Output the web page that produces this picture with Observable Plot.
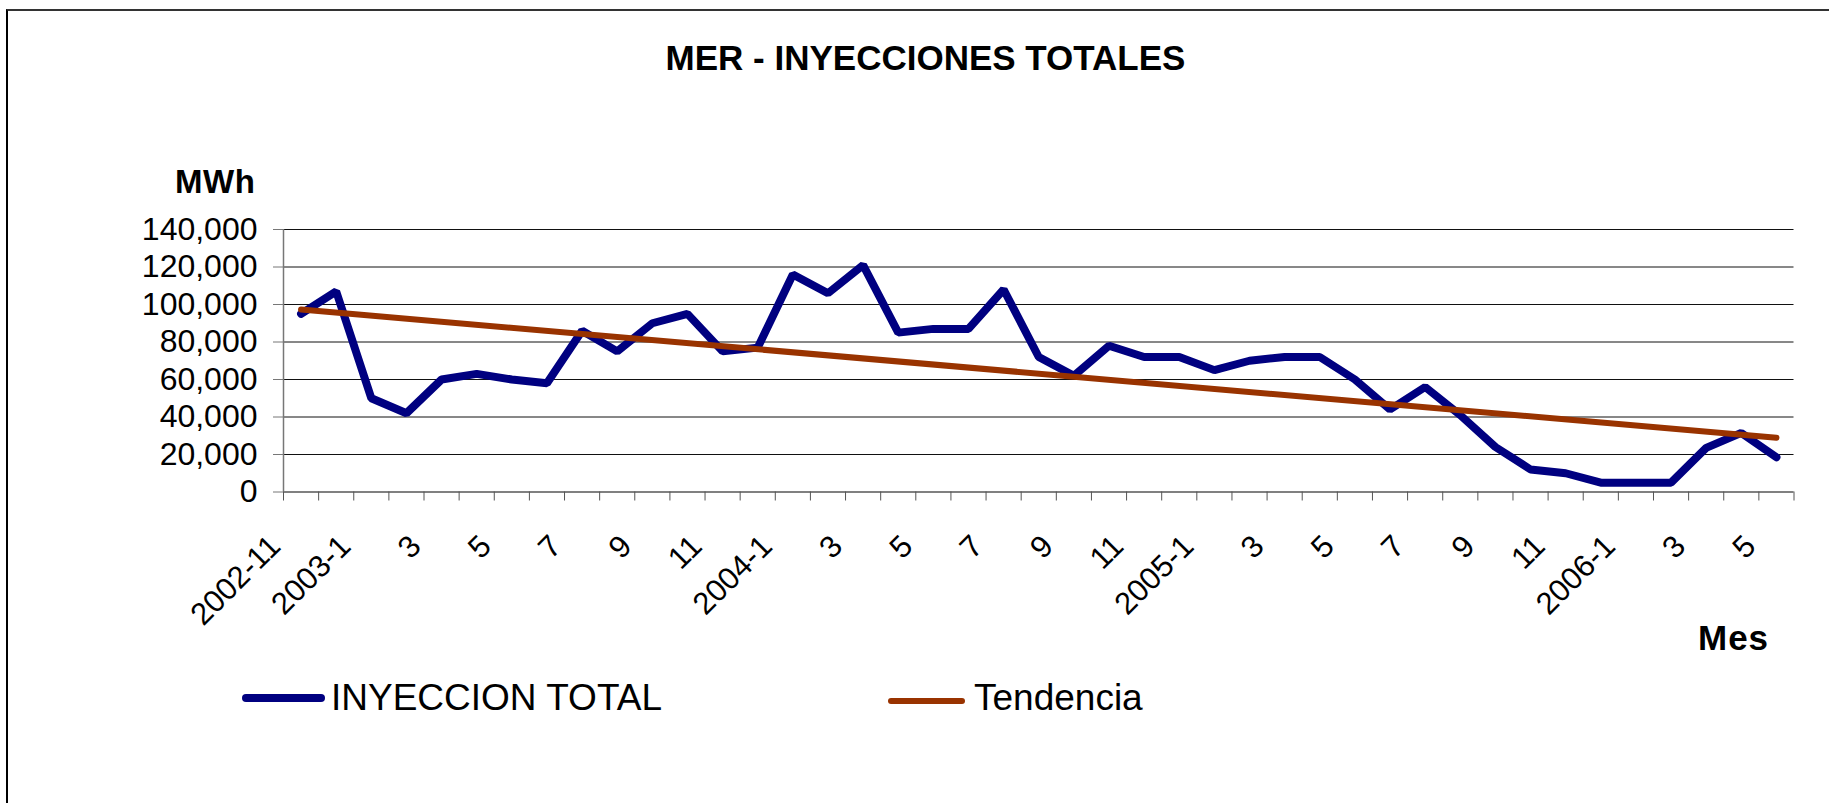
<!DOCTYPE html>
<html>
<head>
<meta charset="utf-8">
<script src="https://cdn.jsdelivr.net/npm/d3@7"></script>
<script src="https://cdn.jsdelivr.net/npm/@observablehq/plot@0.6"></script>
<style>
  html, body { margin: 0; padding: 0; background: #fff; }
  body { width: 1829px; height: 803px; overflow: hidden; font-family: "Liberation Sans", Arial, Helvetica, sans-serif; }
  #page { position: relative; width: 1829px; height: 803px; overflow: hidden; }
  #frame { position: absolute; left: 6px; top: 9px; width: 1900px; height: 900px; border-left: 2px solid #000; border-top: 2px solid #333; box-sizing: border-box; }
  .t { position: absolute; line-height: 1; white-space: nowrap; color: #000; }
  #title { left: 0; width: 1851px; text-align: center; top: 40px; font-size: 35px; font-weight: bold; }
  #ylab { left: 175px; top: 165px; font-size: 33px; font-weight: bold; letter-spacing: 0.5px; }
  #xlab { left: 1698px; top: 620px; font-size: 35px; font-weight: bold; letter-spacing: 1px; }
  #chart { position: absolute; left: 0; top: 0; }
  .leg { position: absolute; top: 679px; font-size: 37px; }
  .sw { position: absolute; }
</style>
</head>
<body>
<div id="page">
  <div id="frame"></div>
  <div id="chart"></div>
  <div id="title" class="t">MER - INYECCIONES TOTALES</div>
  <div id="ylab" class="t">MWh</div>
  <div id="xlab" class="t">Mes</div>
  <svg class="sw" style="left:238px;top:688px" width="92" height="20"><line x1="8" y1="10" x2="83" y2="10" stroke="#000080" stroke-width="8" stroke-linecap="round"/></svg>
  <div class="t leg" style="left:331px">INYECCION TOTAL</div>
  <svg class="sw" style="left:884px;top:691px" width="86" height="20"><line x1="7" y1="10" x2="78" y2="10" stroke="#993300" stroke-width="6" stroke-linecap="round"/></svg>
  <div class="t leg" style="left:974px">Tendencia</div>
</div>
<script>
const months = [
  "2002-11","2002-12",
  "2003-1","2003-2","2003-3","2003-4","2003-5","2003-6","2003-7","2003-8","2003-9","2003-10","2003-11","2003-12",
  "2004-1","2004-2","2004-3","2004-4","2004-5","2004-6","2004-7","2004-8","2004-9","2004-10","2004-11","2004-12",
  "2005-1","2005-2","2005-3","2005-4","2005-5","2005-6","2005-7","2005-8","2005-9","2005-10","2005-11","2005-12",
  "2006-1","2006-2","2006-3","2006-4","2006-5"
];
const inyeccionTotal = [
  95000, 107000,
  50000, 42000, 60000, 63000, 60000, 58000, 86000, 75000, 90000, 95000, 75000, 77000,
  116000, 106000, 121000, 85000, 87000, 87000, 108000, 72000, 62000, 78000, 72000, 72000,
  65000, 70000, 72000, 72000, 60000, 44000, 56000, 41000, 24000, 12000, 10000, 5000,
  5000, 5000, 23500, 31500, 18500
];
const tickLabels = ["2002-11","2003-1","3","5","7","9","11","2004-1","3","5","7","9","11","2005-1","3","5","7","9","11","2006-1","3","5"];
const yTicks = [0, 20000, 40000, 60000, 80000, 100000, 120000, 140000];

const data = months.map((m, i) => ({i, mes: m, value: inyeccionTotal[i]}));
const labelPos = tickLabels.map((_, k) => 2 * k);
const boundaries = d3.range(months.length + 1).map(k => k - 0.5);
const font = '"Liberation Sans", Arial, Helvetica, sans-serif';

const chart = Plot.plot({
  width: 1829,
  height: 803,
  marginLeft: 283,
  marginRight: 35.5,
  marginTop: 229,
  marginBottom: 311.5,
  x: {domain: [-0.5, months.length - 0.5], axis: null},
  y: {domain: [0, 140000], axis: null},
  style: {fontFamily: font, fontSize: "32px", color: "#000", background: "transparent", overflow: "visible"},
  marks: [
    Plot.ruleY(yTicks.slice(1), {stroke: "#111", strokeWidth: 1}),
    Plot.axisY({ticks: yTicks, tickSize: 10, tickPadding: 16, tickFormat: d3.format(","), label: null, stroke: "#777", fontSize: 32}),
    Plot.ruleX([-0.5], {stroke: "#777", strokeWidth: 1.5}),
    Plot.ruleY([0], {stroke: "#808080", strokeWidth: 2, x1: -0.5, x2: months.length - 0.5}),
    Plot.axisX({ticks: boundaries, tickSize: 9, tickFormat: () => "", label: null, stroke: "#555"}),
    Plot.text(labelPos, {
      x: d => d, frameAnchor: "bottom", text: (d, k) => tickLabels[k],
      rotate: -45, textAnchor: "end", lineAnchor: "middle", dx: -26, dy: 49, fontSize: 31, fill: "#000"
    }),
    Plot.line(data, {x: "i", y: "value", stroke: "#000080", strokeWidth: 8, strokeLinejoin: "miter", strokeLinecap: "round"}),
    Plot.linearRegressionY(data, {x: "i", y: "value", stroke: "#993300", strokeWidth: 6, ci: 0, strokeLinecap: "round"})
  ]
});
document.getElementById("chart").appendChild(chart);
</script>
</body>
</html>
